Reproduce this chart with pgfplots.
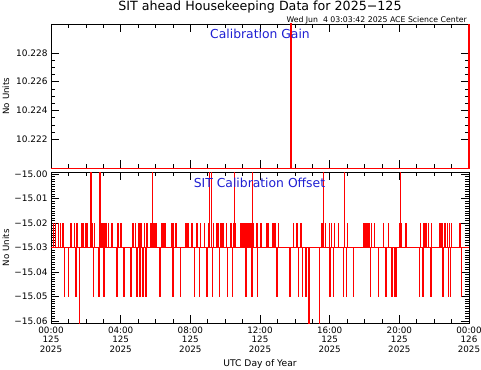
\documentclass[border=0pt]{standalone}
\usepackage{fontspec}
\setmainfont{DejaVu Sans}
\usepackage{pgfplots}
\pgfplotsset{compat=1.18}
\definecolor{idlred}{RGB}{255,0,0}
\definecolor{idlblue}{RGB}{30,30,210}
\begin{document}
\begin{tikzpicture}
\useasboundingbox (0bp,0bp) rectangle (481bp,370bp);
\pgfplotsset{
  idl/.style={
    scale only axis, width=418bp, xmin=0, xmax=24,
    xtick={0,4,...,24}, minor x tick num=3,
    major tick length=8bp, minor tick length=4bp,
    tick style={black, line width=0.6bp},
    axis line style={line width=0.9bp},
    tick label style={font=\fontsize{9}{10}\selectfont},
    every axis y label/.style={at={(axis description cs:-0.1077,0.5)}, rotate=90, anchor=center, font=\fontsize{8.7}{10}\selectfont},
    clip=false,
    ylabel={No Units},
    anchor=south west,
  }
}
\begin{axis}[idl, at={(51bp,201.7bp)}, height=144.3bp,
  ymin=10.2200, ymax=10.2300,
  ytick={10.222,10.224,10.226,10.228},
  yticklabels={10.222,10.224,10.226,10.228},
  minor y tick num=3,
  xticklabels={},
]
\addplot[idlred, line width=1.2bp] coordinates {(0,10.2200)(13.77,10.2200)(13.77,10.2300)(13.79,10.2300)(13.79,10.2200)(24,10.2200)(24,10.2300)};
\end{axis}
\begin{axis}[idl, at={(51bp,46.7bp)}, height=151bp,
  ymin=-15.0610, ymax=-14.9992,
  ytick={-15.06,-15.05,-15.04,-15.03,-15.02,-15.01,-15.00},
  yticklabels={−15.06,−15.05,−15.04,−15.03,−15.02,−15.01,−15.00},
  minor y tick num=9,
  xticklabels={{00:00\\125\\2025},{04:00\\125\\2025},{08:00\\125\\2025},{12:00\\125\\2025},{16:00\\125\\2025},{20:00\\125\\2025},{00:00\\126\\2025}},
  xticklabel style={align=center, font=\fontsize{8.8}{9.5}\selectfont},
  xlabel={UTC Day of Year},
  every axis x label/.style={at={(axis description cs:0.5,-0.27)}, anchor=center, font=\fontsize{9.2}{10}\selectfont},
]
\addplot[const plot, idlred, line width=1bp] coordinates {
(0,-15.03)
(0.134,-15.02)(0.154,-15.03)
(0.230,-15.02)(0.250,-15.03)
(0.421,-15.02)(0.441,-15.03)
(0.517,-15.02)(0.537,-15.03)
(0.670,-15.02)(0.690,-15.03)
(0.766,-15.05)(0.786,-15.03)
(0.995,-15.05)(1.015,-15.03)
(1.148,-15.02)(1.168,-15.03)
(1.321,-15.02)(1.341,-15.03)
(1.435,-15.05)(1.455,-15.03)
(1.474,-15.02)(1.494,-15.03)
(1.608,-15.061)(1.628,-15.03)
(1.761,-15.02)(1.781,-15.03)
(1.856,-15.02)(1.876,-15.03)
(1.990,-15.02)(2.010,-15.03)
(2.086,-15.02)(2.106,-15.03)
(2.278,-14.9992)(2.298,-15.03)
(2.335,-15.02)(2.355,-15.03)
(2.431,-15.05)(2.451,-15.03)
(2.488,-15.02)(2.508,-15.03)
(2.737,-15.05)(2.757,-15.03)
(2.813,-14.9992)(2.833,-15.03)
(2.870,-15.02)(2.890,-15.03)
(2.920,-15.02)(2.940,-15.03)
(2.967,-15.02)(2.987,-15.03)
(3.024,-15.05)(3.044,-15.03)
(3.081,-15.02)(3.101,-15.03)
(3.120,-15.02)(3.140,-15.03)
(3.158,-15.02)(3.178,-15.03)
(3.292,-15.02)(3.312,-15.03)
(3.483,-15.02)(3.503,-15.03)
(3.770,-15.05)(3.790,-15.03)
(3.828,-15.02)(3.848,-15.03)
(4.019,-15.02)(4.039,-15.03)
(4.191,-15.05)(4.211,-15.03)
(4.593,-15.05)(4.613,-15.03)
(4.689,-15.02)(4.709,-15.03)
(4.823,-15.02)(4.843,-15.03)
(4.919,-15.05)(4.939,-15.03)
(5.033,-15.02)(5.053,-15.03)
(5.110,-15.05)(5.130,-15.03)
(5.167,-15.02)(5.187,-15.03)
(5.263,-15.05)(5.283,-15.03)
(5.340,-15.02)(5.360,-15.03)
(5.435,-15.05)(5.455,-15.03)
(5.493,-15.02)(5.513,-15.03)
(5.722,-15.02)(5.742,-15.03)
(5.770,-15.02)(5.790,-15.03)
(5.818,-14.9992)(5.838,-15.03)
(5.876,-15.02)(5.896,-15.03)
(5.933,-15.02)(5.953,-15.03)
(5.990,-15.02)(6.010,-15.03)
(6.050,-15.02)(6.070,-15.03)
(6.258,-15.05)(6.278,-15.03)
(6.316,-15.02)(6.336,-15.03)
(6.411,-15.02)(6.431,-15.03)
(6.545,-15.02)(6.565,-15.03)
(6.928,-15.02)(6.948,-15.03)
(6.986,-15.05)(7.006,-15.03)
(7.024,-15.02)(7.044,-15.03)
(7.158,-15.02)(7.178,-15.03)
(7.407,-15.05)(7.427,-15.03)
(7.694,-15.02)(7.714,-15.03)
(7.790,-15.02)(7.810,-15.03)
(7.885,-15.02)(7.905,-15.03)
(8.077,-15.02)(8.097,-15.03)
(8.211,-15.05)(8.231,-15.03)
(8.364,-15.02)(8.384,-15.03)
(8.498,-15.05)(8.518,-15.03)
(8.555,-15.02)(8.575,-15.03)
(8.785,-15.02)(8.805,-15.03)
(8.938,-15.05)(8.958,-15.03)
(9.033,-15.02)(9.053,-15.03)
(9.091,-14.9992)(9.111,-15.03)
(9.187,-14.9992)(9.207,-15.03)
(9.263,-15.05)(9.283,-15.03)
(9.321,-15.02)(9.341,-15.03)
(9.474,-15.02)(9.494,-15.03)
(9.569,-15.02)(9.589,-15.03)
(9.646,-15.05)(9.666,-15.03)
(9.742,-15.02)(9.762,-15.03)
(9.856,-15.02)(9.876,-15.03)
(10.048,-15.02)(10.068,-15.03)
(10.124,-15.05)(10.144,-15.03)
(10.316,-15.02)(10.336,-15.03)
(10.411,-15.05)(10.431,-15.03)
(10.469,-15.02)(10.489,-15.03)
(10.526,-14.9992)(10.546,-15.03)
(10.565,-15.02)(10.585,-15.03)
(10.852,-15.02)(10.872,-15.03)
(10.890,-15.02)(10.910,-15.03)
(10.928,-15.02)(10.948,-15.03)
(10.966,-15.02)(10.986,-15.03)
(11.005,-15.02)(11.025,-15.03)
(11.043,-15.02)(11.063,-15.03)
(11.081,-15.02)(11.101,-15.03)
(11.120,-15.02)(11.140,-15.03)
(11.158,-15.02)(11.178,-15.03)
(11.196,-15.05)(11.216,-15.03)
(11.234,-15.02)(11.254,-15.03)
(11.272,-15.02)(11.292,-15.03)
(11.311,-15.02)(11.331,-15.03)
(11.350,-15.02)(11.370,-15.03)
(11.388,-15.02)(11.408,-15.03)
(11.426,-15.02)(11.446,-15.03)
(11.464,-15.02)(11.484,-15.03)
(11.522,-15.05)(11.542,-15.03)
(11.560,-14.9992)(11.580,-15.03)
(11.617,-15.02)(11.637,-15.03)
(11.809,-15.02)(11.829,-15.03)
(11.847,-15.05)(11.867,-15.03)
(12.038,-15.02)(12.058,-15.03)
(12.383,-15.02)(12.403,-15.03)
(12.478,-15.02)(12.498,-15.03)
(12.727,-15.02)(12.747,-15.03)
(12.861,-15.02)(12.881,-15.03)
(12.957,-15.05)(12.977,-15.03)
(13.053,-15.02)(13.073,-15.03)
(13.722,-15.05)(13.742,-15.03)
(13.914,-15.02)(13.934,-15.03)
(14.105,-15.02)(14.125,-15.03)
(14.201,-15.05)(14.221,-15.03)
(14.297,-15.02)(14.317,-15.03)
(14.354,-15.02)(14.374,-15.03)
(14.431,-15.05)(14.451,-15.03)
(14.641,-15.05)(14.661,-15.03)
(14.813,-15.061)(14.833,-15.03)
(15.407,-15.061)(15.427,-15.03)
(15.541,-15.02)(15.561,-15.03)
(15.636,-14.9992)(15.656,-15.03)
(15.732,-15.02)(15.752,-15.03)
(15.981,-15.02)(16.001,-15.03)
(16.019,-15.05)(16.039,-15.03)
(16.077,-15.02)(16.097,-15.03)
(16.211,-15.05)(16.231,-15.03)
(16.249,-15.02)(16.269,-15.03)
(16.498,-15.02)(16.518,-15.03)
(16.785,-15.05)(16.805,-15.03)
(16.842,-14.9992)(16.862,-15.03)
(16.938,-15.05)(16.958,-15.03)
(17.014,-15.02)(17.034,-15.03)
(17.359,-15.05)(17.379,-15.03)
(17.970,-15.02)(17.990,-15.03)
(18.050,-15.02)(18.070,-15.03)
(18.140,-15.02)(18.160,-15.03)
(18.240,-15.02)(18.260,-15.03)
(18.320,-15.05)(18.340,-15.03)
(18.380,-15.02)(18.400,-15.03)
(18.550,-15.02)(18.570,-15.03)
(18.790,-15.05)(18.810,-15.03)
(19.080,-15.02)(19.100,-15.03)
(19.220,-15.05)(19.240,-15.03)
(19.360,-15.02)(19.380,-15.03)
(19.560,-15.05)(19.580,-15.03)
(19.710,-15.05)(19.730,-15.03)
(19.800,-15.05)(19.820,-15.03)
(20.000,-15.02)(20.020,-15.03)
(20.070,-14.9992)(20.090,-15.03)
(20.130,-15.02)(20.150,-15.03)
(20.380,-15.02)(20.400,-15.03)
(21.150,-15.05)(21.170,-15.03)
(21.200,-15.02)(21.220,-15.03)
(21.340,-15.05)(21.360,-15.03)
(21.400,-15.02)(21.420,-15.03)
(21.520,-15.02)(21.540,-15.03)
(21.660,-15.02)(21.680,-15.03)
(21.800,-15.05)(21.820,-15.03)
(21.840,-15.02)(21.860,-15.03)
(22.320,-15.02)(22.340,-15.03)
(22.430,-15.02)(22.450,-15.03)
(22.500,-15.05)(22.520,-15.03)
(22.620,-15.02)(22.640,-15.03)
(22.760,-15.02)(22.780,-15.03)
(22.800,-15.05)(22.820,-15.03)
(22.870,-15.02)(22.890,-15.03)
(22.930,-15.05)(22.950,-15.03)
(23.000,-15.02)(23.020,-15.03)
(23.480,-15.02)(23.500,-15.03)
(23.550,-15.05)(23.570,-15.03)
(24,-15.03)
};
\end{axis}
\node[anchor=base, font=\fontsize{12.7}{14}\selectfont, inner sep=0pt] at (260bp,359.7bp) {SIT ahead Housekeeping Data for 2025−125};
\node[anchor=base east, font=\fontsize{7.8}{9}\selectfont, inner sep=0pt] at (467bp,347.7bp) {Wed Jun\ \ 4 03:03:42 2025 ACE Science Center};
\node[anchor=base, text=idlblue, font=\fontsize{12.4}{14}\selectfont, inner sep=0pt] at (260bp,331.7bp) {Calibration Gain};
\node[anchor=base, text=idlblue, font=\fontsize{12.4}{14}\selectfont, inner sep=0pt] at (259.5bp,182.7bp) {SIT Calibration Offset};
\end{tikzpicture}
\end{document}
